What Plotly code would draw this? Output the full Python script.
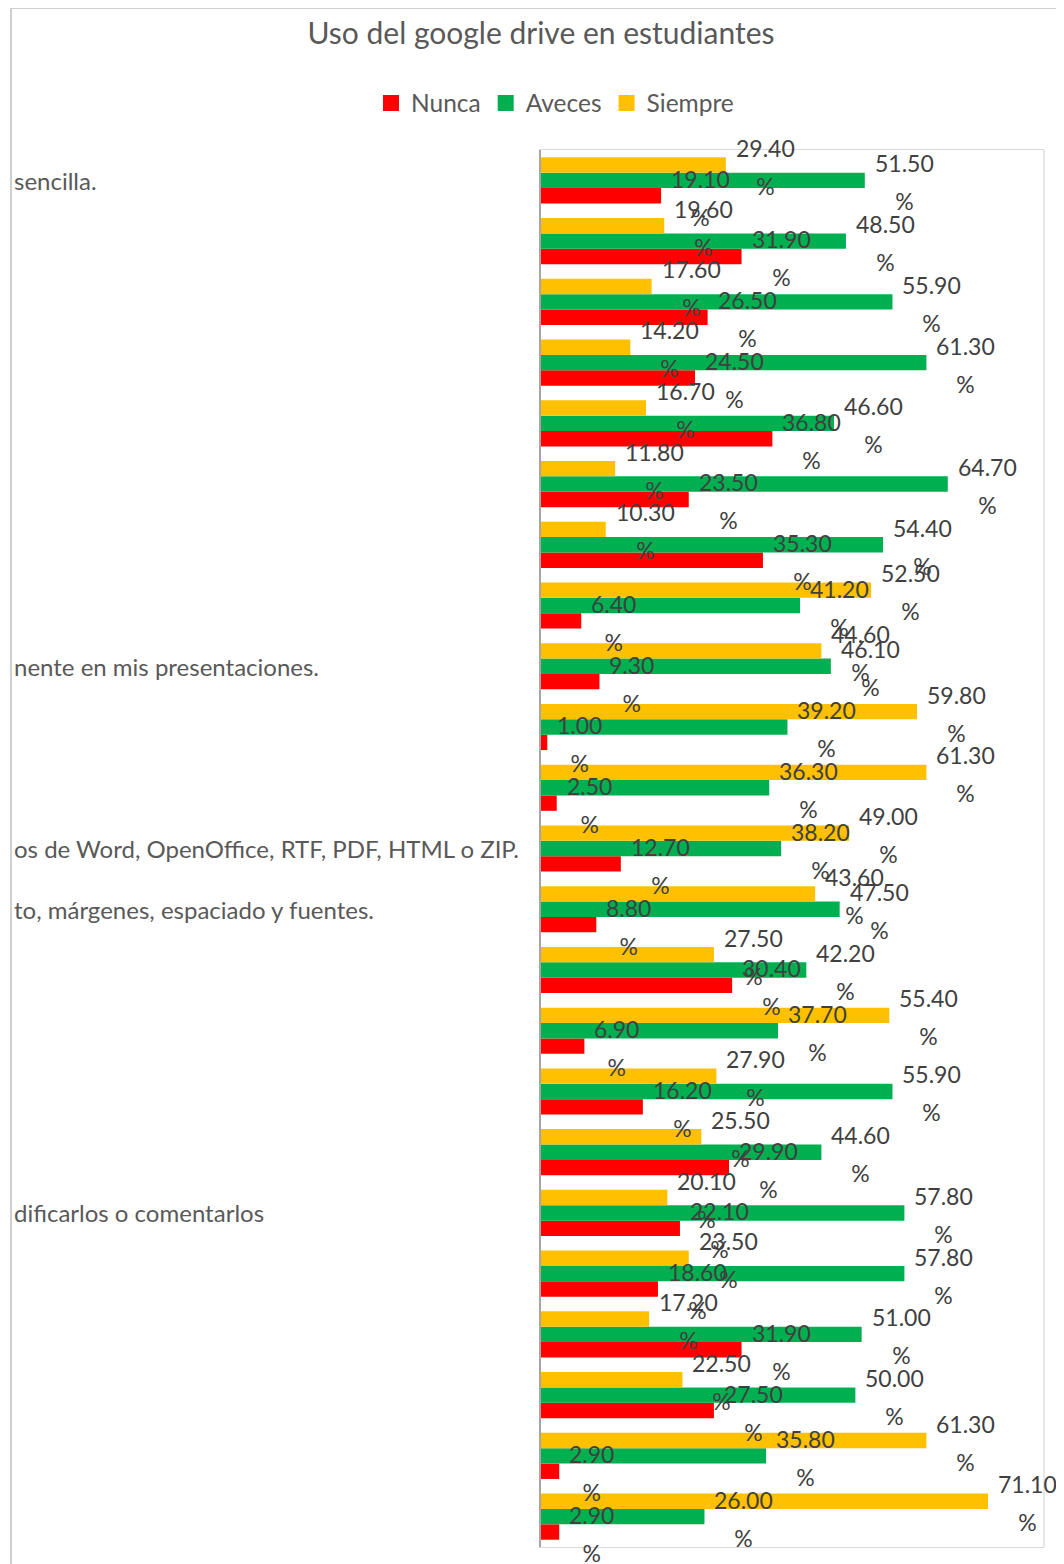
import plotly.graph_objects as go

# ---------------- data ----------------
group_ids = [f"P{i}" for i in range(1, 24)]
category_labels = [
    "sencilla.", "", "", "", "", "", "", "",
    "nente en mis presentaciones.", "", "",
    "os de Word, OpenOffice, RTF, PDF, HTML o ZIP.",
    "to, márgenes, espaciado y fuentes.",
    "", "", "", "",
    "dificarlos o comentarlos",
    "", "", "", "", "",
]
nunca = [19.10, 31.90, 26.50, 24.50, 36.80, 23.50, 35.30, 6.40, 9.30, 1.00, 2.50, 12.70,
         8.80, 30.40, 6.90, 16.20, 29.90, 22.10, 18.60, 31.90, 27.50, 2.90, 2.90]
aveces = [51.50, 48.50, 55.90, 61.30, 46.60, 64.70, 54.40, 41.20, 46.10, 39.20, 36.30, 38.20,
          47.50, 42.20, 37.70, 55.90, 44.60, 57.80, 57.80, 51.00, 50.00, 35.80, 26.00]
siempre = [29.40, 19.60, 17.60, 14.20, 16.70, 11.80, 10.30, 52.50, 44.60, 59.80, 61.30, 49.00,
           43.60, 27.50, 55.40, 27.90, 25.50, 20.10, 23.50, 17.20, 22.50, 61.30, 71.10]
series_names = ["Nunca", "Aveces", "Siempre"]
series_colors = ["#FF0000", "#00B050", "#FFC000"]
title_text = "Uso del google drive en estudiantes"

# ---------------- layout geometry ----------------
# The page body has an 8px default margin, so the figure is drawn 8px smaller.
OFF = 8
W, H = 1064 - OFF, 1564 - OFF
PLOT_L, PLOT_R, PLOT_T, PLOT_B = 541, 1044, 150, 1547   # window pixels
ML, MT = PLOT_L - OFF, PLOT_T - OFF
MR, MB = W - (PLOT_R - OFF), H - (PLOT_B - OFF)
PW, PH = PLOT_R - PLOT_L, PLOT_B - PLOT_T
BARGAP = 0.24
FONT = "Lato"
LABEL_SIZE = 23

def px_x(p):
    return (p - PLOT_L) / PW

def px_y(p):
    return (PLOT_B - p) / PH

fig = go.Figure()
series_values = [nunca, aveces, siempre]
for name, vals, col in zip(series_names, series_values, series_colors):
    fig.add_trace(go.Bar(
        name=name, x=vals, y=group_ids, orientation="h",
        marker=dict(color=col, line=dict(width=0)),
        showlegend=False, hoverinfo="x+name",
    ))
# legend entries (larger square swatches)
for name, col in zip(series_names, series_colors):
    fig.add_trace(go.Scatter(
        name=name, x=[None], y=[None], mode="markers",
        marker=dict(symbol="square", size=16, color=col),
        showlegend=True,
    ))

pitch = PH / len(group_ids)
bar_px = (1 - BARGAP) / 3 * pitch
offsets = [-bar_px, 0.0, bar_px]  # Nunca bottom, Aveces middle, Siempre top

annotations = []
for vals, off in zip(series_values, offsets):
    for gid, v in zip(group_ids, vals):
        num = f"{v:.2f}"
        annotations.append(dict(
            x=v, y=gid, xref="x", yref="y", text=num, showarrow=False,
            xanchor="left", yanchor="middle", xshift=8, yshift=off + 17,
            font=dict(family=FONT, size=LABEL_SIZE, color="#404040"),
        ))
        annotations.append(dict(
            x=v, y=gid, xref="x", yref="y",
            text=f"<span style='color:rgba(0,0,0,0)'>{num}</span><br>%",
            showarrow=False, align="center",
            xanchor="left", yanchor="middle", xshift=8, yshift=off - 6,
            font=dict(family=FONT, size=LABEL_SIZE, color="#404040"),
        ))

for gid, lab in zip(group_ids, category_labels):
    if lab:
        annotations.append(dict(
            x=px_x(12), y=gid, xref="paper", yref="y", text=lab, showarrow=False,
            xanchor="left", yanchor="middle",
            font=dict(family=FONT, size=24, color="#595959"),
        ))

shapes = [
    # outer chart frame (left and top edges)
    dict(type="line", xref="paper", yref="paper", x0=px_x(11), x1=px_x(11),
         y0=px_y(8), y1=px_y(1600), line=dict(color="#BFBFBF", width=1.5)),
    dict(type="line", xref="paper", yref="paper", x0=px_x(11), x1=px_x(1100),
         y0=px_y(8), y1=px_y(8), line=dict(color="#BFBFBF", width=1.5)),
    # plot-area border (right)
    dict(type="line", xref="paper", yref="paper", x0=1, x1=1, y0=0, y1=1,
         line=dict(color="#D9D9D9", width=1.2)),
]

fig.update_layout(
    width=W, height=H,
    margin=dict(l=ML, r=MR, t=MT, b=MB),
    paper_bgcolor="white", plot_bgcolor="white",
    barmode="group", bargap=BARGAP, bargroupgap=0,
    font=dict(family=FONT, color="#595959"),
    title=dict(text=title_text, x=(541 - OFF) / W, xanchor="center", xref="container",
               y=1 - (33 - OFF) / H, yanchor="middle", yref="container",
               font=dict(family=FONT, size=30, color="#595959")),
    legend=dict(orientation="h", x=px_x(555), xanchor="center",
                y=px_y(103), yanchor="middle",
                font=dict(family=FONT, size=24.5, color="#595959"),
                itemsizing="trace", traceorder="normal"),
    xaxis=dict(range=[0, 80], showgrid=False, zeroline=False, showticklabels=False,
               ticks="", showline=True, mirror=True, linecolor="#D9D9D9", linewidth=1.2),
    yaxis=dict(type="category", categoryorder="array", categoryarray=group_ids[::-1],
               range=[-0.5, len(group_ids) - 0.5],
               showgrid=False, zeroline=False, showticklabels=False, ticks="",
               showline=True, linecolor="#A6A6A6", linewidth=2),
    annotations=annotations, shapes=shapes,
)

fig.write_html("out.html")
